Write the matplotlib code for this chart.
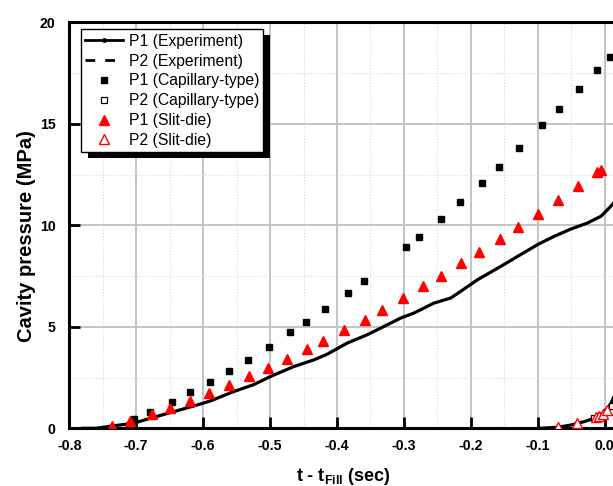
import matplotlib
matplotlib.use("Agg")
import matplotlib.pyplot as plt
from matplotlib.lines import Line2D
from matplotlib.patches import Rectangle
from matplotlib.transforms import IdentityTransform
from matplotlib.ticker import MultipleLocator

plt.rcParams['font.family'] = ['Liberation Sans', 'DejaVu Sans']
plt.rcParams['mathtext.fontset'] = 'custom'
plt.rcParams['mathtext.rm'] = 'Liberation Sans'
plt.rcParams['mathtext.bf'] = 'Liberation Sans:bold'

# ---- data ----
exp_p1_t = [-0.78, -0.76, -0.739, -0.704, -0.674, -0.644, -0.614, -0.589, -0.5545, -0.5246,
            -0.4996, -0.4647, -0.4347, -0.4147, -0.3847, -0.3548, -0.3249, -0.305, -0.285,
            -0.2551, -0.230, -0.2151, -0.190, -0.1552, -0.1302, -0.1003, -0.0854, -0.0754,
            -0.0505, -0.0255, -0.0055, 0.0045, 0.0139, 0.02]
exp_p1_p = [0.0, 0.0, 0.1, 0.25, 0.54, 0.82, 1.10, 1.35, 1.81, 2.15,
            2.55, 3.04, 3.37, 3.65, 4.20, 4.61, 5.10, 5.43, 5.68,
            6.17, 6.42, 6.75, 7.32, 7.98, 8.47, 9.05, 9.30, 9.46,
            9.82, 10.12, 10.45, 10.78, 11.11, 11.5]

exp_p2_t = [-0.098, -0.0704, -0.0505, -0.0305, -0.0156, -0.003, 0.0045, 0.0095, 0.014, 0.02]
exp_p2_p = [0.0, 0.05, 0.16, 0.33, 0.49, 0.74, 0.99, 1.23, 1.56, 2.0]

cap_p1_t = [-0.703, -0.680, -0.647, -0.619, -0.590, -0.561, -0.533, -0.502, -0.470, -0.446,
            -0.418, -0.384, -0.360, -0.2975, -0.2775, -0.244, -0.2156, -0.1837, -0.1582,
            -0.128, -0.0934, -0.068, -0.039, -0.012, 0.0074]
cap_p1_p = [0.45, 0.80, 1.31, 1.77, 2.30, 2.83, 3.39, 4.02, 4.73, 5.24,
            5.87, 6.68, 7.27, 8.93, 9.41, 10.34, 11.15, 12.08, 12.87,
            13.82, 14.93, 15.72, 16.72, 17.64, 18.29]

cap_p2_t = [-0.016, -0.008, 0.002, 0.011]
cap_p2_p = [0.53, 0.62, 0.78, 1.10]

slit_p1_t = [-0.7365, -0.7087, -0.6766, -0.6493, -0.6198, -0.5909, -0.5614, -0.5314, -0.5036,
             -0.4741, -0.4452, -0.4202, -0.3892, -0.3578, -0.3323, -0.3009, -0.271, -0.2446,
             -0.2151, -0.1871, -0.157, -0.1287, -0.0998, -0.0695, -0.0404, -0.0111, -0.005]
slit_p1_p = [0.11, 0.38, 0.69, 1.00, 1.36, 1.73, 2.12, 2.57, 2.99,
             3.44, 3.90, 4.31, 4.85, 5.36, 5.84, 6.40, 6.99, 7.52,
             8.13, 8.67, 9.32, 9.91, 10.57, 11.26, 11.93, 12.61, 12.72]

slit_p2_t = [-0.0695, -0.0419, -0.0130, -0.008, -0.003, 0.0034]
slit_p2_p = [0.06, 0.26, 0.54, 0.61, 0.71, 0.90]

labels = ['P1 (Experiment)', 'P2 (Experiment)', 'P1 (Capillary-type)',
          'P2 (Capillary-type)', 'P1 (Slit-die)', 'P2 (Slit-die)']
xticks = [-0.8, -0.7, -0.6, -0.5, -0.4, -0.3, -0.2, -0.1, 0.0]
yticks = [0, 5, 10, 15, 20]

# ---- figure ----
W, H = 613, 486
fig = plt.figure(figsize=(W / 100, H / 100), dpi=100)
x0, x1 = 69.3, 618.0
ytop, ybot = 22.5, 428.3
ax = fig.add_axes([x0 / W, 1 - ybot / H, (x1 - x0) / W, (ybot - ytop) / H])

ax.plot(exp_p1_t, exp_p1_p, color='black', lw=2.3, zorder=3)
ax.plot(exp_p2_t, exp_p2_p, color='black', lw=2.3, zorder=3)
ax.plot(cap_p1_t, cap_p1_p, ls='none', marker='s', ms=5, color='black', zorder=4)
ax.plot(cap_p2_t, cap_p2_p, ls='none', marker='s', ms=5, mfc='white', mec='black', mew=0.9, zorder=4)
ax.plot(slit_p1_t, slit_p1_p, ls='none', marker='^', ms=6.5, color='red', zorder=4)
ax.plot(slit_p2_t, slit_p2_p, ls='none', marker='^', ms=6.5, mfc='white', mec='red', mew=1.0, zorder=4)

ax.set_xlim(-0.8, 0.02)
ax.set_ylim(0, 20)
ax.set_xticks(xticks)
ax.set_xticklabels([f'{v:.1f}' for v in xticks])
ax.set_yticks(yticks)
ax.set_yticklabels([str(v) for v in yticks])
ax.xaxis.set_minor_locator(MultipleLocator(0.05))
ax.yaxis.set_minor_locator(MultipleLocator(2.5))

ax.grid(which='major', color='#c4c4c4', lw=1.4, ls='-', zorder=0)
ax.grid(which='minor', color='#d8d8d8', lw=0.8, ls=':', zorder=0)
ax.set_axisbelow(True)

ax.tick_params(which='major', direction='in', length=8, width=2, labelsize=10.2)
ax.tick_params(axis='x', which='major', pad=8)
ax.tick_params(axis='y', which='major', pad=10)
ax.tick_params(which='minor', length=0)
for lab in ax.get_xticklabels() + ax.get_yticklabels():
    lab.set_fontweight('bold')

for s in ['left', 'top', 'bottom']:
    ax.spines[s].set_linewidth(2.2)
ax.spines['right'].set_visible(False)

ax.set_ylabel('Cavity pressure (MPa)', fontsize=14.5, fontweight='bold')
ax.yaxis.set_label_coords(-0.06, 0.474)
ax.set_xlabel(r't - t$_{\mathbf{Fill}}$ (sec)', fontsize=13, fontweight='bold', labelpad=9)

handles = [
    Line2D([], [], color='black', lw=2, marker='o', ms=2.5),
    Line2D([], [], color='black', lw=2, ls=(0, (3.5, 3.6))),
    Line2D([], [], ls='none', marker='s', ms=5, color='black'),
    Line2D([], [], ls='none', marker='s', ms=5, mfc='white', mec='black', mew=0.9),
    Line2D([], [], ls='none', marker='^', ms=6.5, color='red'),
    Line2D([], [], ls='none', marker='^', ms=6.5, mfc='white', mec='red', mew=1.0),
]
leg = ax.legend(handles, labels, loc='upper left', bbox_to_anchor=(0.0208, 0.983),
                borderaxespad=0, fontsize=11.3, labelspacing=0.31, handlelength=2.4,
                handletextpad=0.375, borderpad=0.27, fancybox=False, framealpha=1,
                edgecolor='black', frameon=True)
leg.get_frame().set_linewidth(1.0)
leg.set_zorder(10)

fig.canvas.draw()
bb = leg.get_window_extent()
shadow = Rectangle((bb.x0 + 7, bb.y0 - 6), bb.width, bb.height, transform=IdentityTransform(),
                   facecolor='black', edgecolor='none', zorder=9.5, clip_on=False)
ax.add_artist(shadow)

fig.savefig('out.png', dpi=100)
